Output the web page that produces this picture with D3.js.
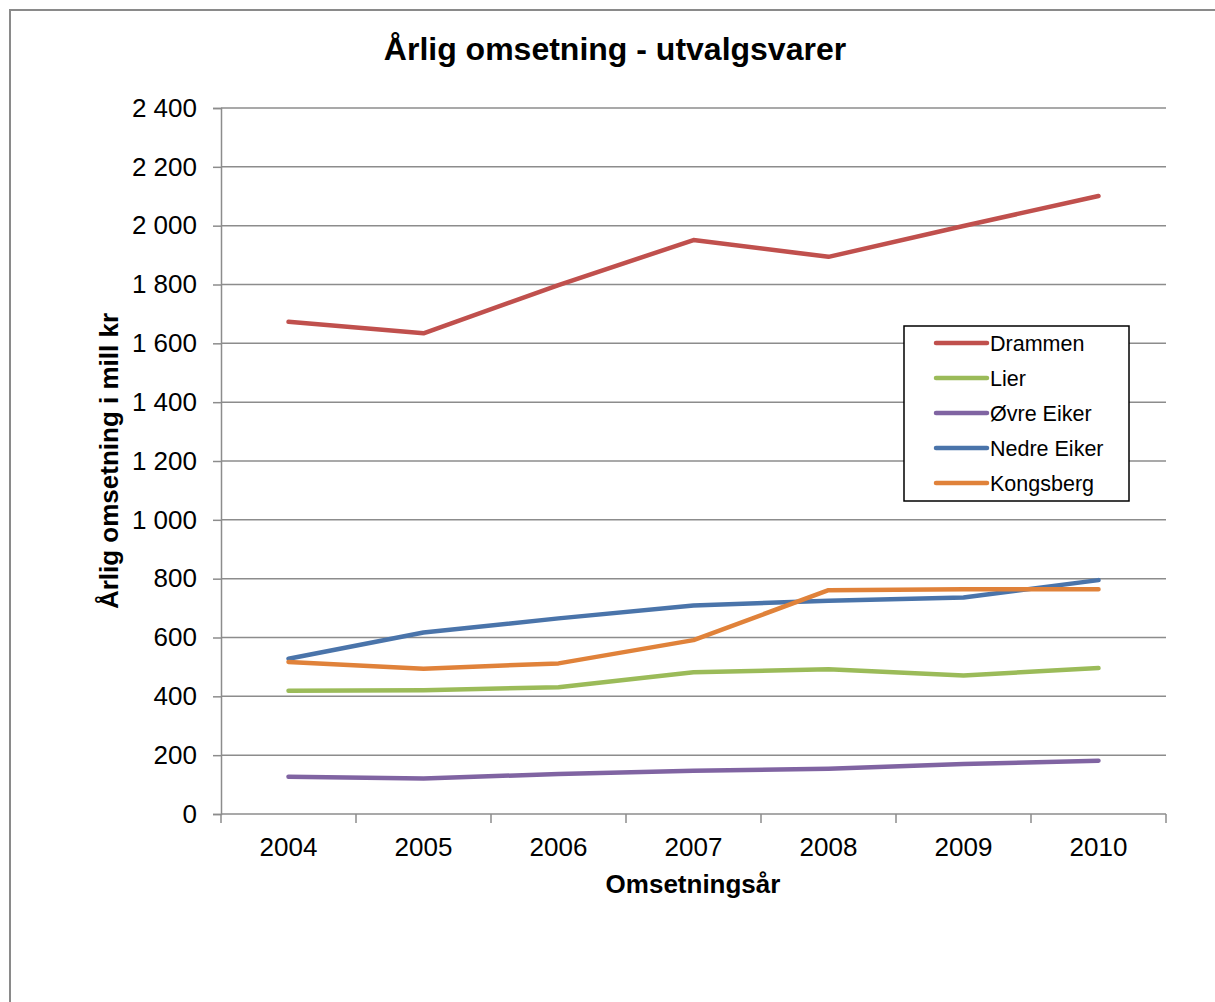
<!DOCTYPE html>
<html>
<head>
<meta charset="utf-8">
<script src="https://cdn.jsdelivr.net/npm/d3@7"></script>
<style>
  html, body { margin: 0; padding: 0; background: #fff; }
  svg { display: block; font-family: "Liberation Sans", Arial, sans-serif; }
</style>
</head>
<body>
<svg id="chart" width="1215" height="1002"></svg>
<script>
// Annual turnover, specialty goods (mill kr), by municipality
const years = ["2004", "2005", "2006", "2007", "2008", "2009", "2010"];
const drammen    = [1673, 1634, 1798, 1951, 1894, 1999, 2101];
const lier       = [419, 421, 431, 482, 492, 471, 496];
const ovreEiker  = [127, 121, 136, 147, 154, 170, 181];
const nedreEiker = [528, 617, 665, 709, 725, 736, 795];
const kongsberg  = [517, 494, 512, 591, 761, 764, 764];
const seriesNames  = ["Drammen", "Lier", "Øvre Eiker", "Nedre Eiker", "Kongsberg"];
const seriesColors = ["#C0504D", "#9BBB59", "#8064A2", "#4A74AA", "#E0823A"];
const yTicks = [0, 200, 400, 600, 800, 1000, 1200, 1400, 1600, 1800, 2000, 2200, 2400];

const seriesValues = [drammen, lier, ovreEiker, nedreEiker, kongsberg];
const series = seriesNames.map((name, i) => ({ name, color: seriesColors[i], values: seriesValues[i] }));

const svg = d3.select("#chart");
const plot = { left: 221, right: 1166, top: 108, bottom: 814 };
const axisColor = "#8c8c8c";

// Outer chart frame
svg.append("path")
  .attr("d", "M10,1004 L10,10 L1217,10")
  .attr("fill", "none").attr("stroke", "#8a8a8a").attr("stroke-width", 2);

const x = d3.scaleBand().domain(years).range([plot.left, plot.right]).padding(0);
const y = d3.scaleLinear().domain([0, 2400]).range([plot.bottom, plot.top]);

const fmt = v => d3.format(",")(v).replace(/,/g, " ");

// Horizontal gridlines
svg.append("g").selectAll("line").data(yTicks.filter(t => t > 0)).join("line")
  .attr("x1", plot.left).attr("x2", plot.right)
  .attr("y1", d => y(d)).attr("y2", d => y(d))
  .attr("stroke", axisColor).attr("stroke-width", 1.5);

// Y axis
const yAxis = svg.append("g").attr("transform", `translate(${plot.left},0)`)
  .call(d3.axisLeft(y).tickValues(yTicks).tickFormat(fmt).tickSize(8).tickPadding(16));
yAxis.select(".domain").attr("stroke", axisColor).attr("stroke-width", 1.5);
yAxis.selectAll(".tick line").attr("stroke", axisColor).attr("stroke-width", 1.5);
yAxis.selectAll(".tick text").attr("font-size", 26).attr("fill", "#000")
  .attr("font-family", "Liberation Sans, Arial, sans-serif");

// X axis with tick marks at category boundaries
const xAxisG = svg.append("g").attr("transform", `translate(0,${plot.bottom})`);
xAxisG.append("line").attr("x1", plot.left).attr("x2", plot.right)
  .attr("stroke", axisColor).attr("stroke-width", 1.5);
const bounds = years.map(d => x(d)).concat([plot.right]);
xAxisG.selectAll("line.tk").data(bounds).join("line").attr("class", "tk")
  .attr("x1", d => d).attr("x2", d => d).attr("y1", 0).attr("y2", 9)
  .attr("stroke", axisColor).attr("stroke-width", 1.5);
xAxisG.selectAll("text").data(years).join("text")
  .attr("x", d => x(d) + x.bandwidth() / 2).attr("y", 42)
  .attr("text-anchor", "middle").attr("font-size", 26).attr("fill", "#000")
  .text(d => d);

// Lines
const line = d3.line().x((d, i) => x(years[i]) + x.bandwidth() / 2).y(d => y(d));
svg.append("g").selectAll("path").data(series).join("path")
  .attr("d", d => line(d.values))
  .attr("fill", "none").attr("stroke", d => d.color)
  .attr("stroke-width", 4.5).attr("stroke-linecap", "round").attr("stroke-linejoin", "round");

// Title
svg.append("text").attr("x", 615).attr("y", 60).attr("text-anchor", "middle")
  .attr("font-size", 32).attr("font-weight", "bold").text("Årlig omsetning - utvalgsvarer");

// Axis titles
svg.append("text").attr("x", 693).attr("y", 893).attr("text-anchor", "middle")
  .attr("font-size", 26).attr("font-weight", "bold").text("Omsetningsår");
svg.append("text").attr("transform", "translate(118,461) rotate(-90)").attr("text-anchor", "middle")
  .attr("font-size", 26).attr("font-weight", "bold").text("Årlig omsetning i mill kr");

// Legend
const lg = svg.append("g").attr("transform", "translate(904,326)");
lg.append("rect").attr("width", 225).attr("height", 175)
  .attr("fill", "#fff").attr("stroke", "#000").attr("stroke-width", 1.5);
const items = lg.selectAll("g").data(series).join("g")
  .attr("transform", (d, i) => `translate(0,${17 + i * 35})`);
items.append("line").attr("x1", 32).attr("x2", 83)
  .attr("stroke", d => d.color).attr("stroke-width", 4.5).attr("stroke-linecap", "round");
items.append("text").attr("x", 86).attr("y", 8).attr("font-size", 21.5).text(d => d.name);
</script>
</body>
</html>
